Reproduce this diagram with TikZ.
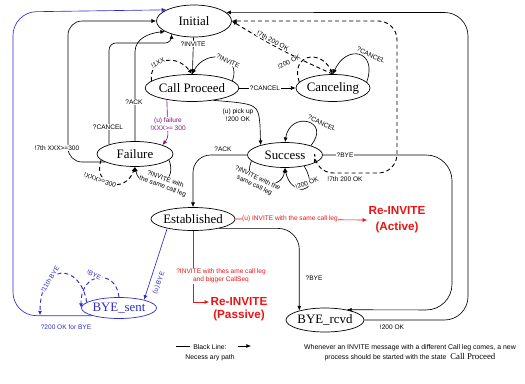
\documentclass[tikz,border=0pt]{standalone}
\usepackage{fontspec}
\setmainfont{Liberation Serif}
\newfontfamily\lblsans{Liberation Sans}
\usetikzlibrary{positioning, shapes.geometric, arrows.meta}
\definecolor{byeblue}{RGB}{45,45,200}
\definecolor{failpurple}{RGB}{125,20,125}
\definecolor{reinvred}{RGB}{235,20,20}
\tikzset{
  state/.style={ellipse, draw=black, line width=0.6pt, inner sep=0pt, font=\fontsize{11}{12}\selectfont},
  lbl/.style={font=\lblsans\fontsize{5.6}{6.6}\selectfont, fill=white, inner sep=0.6pt, align=center},
  reinv/.style={font=\lblsans\bfseries\fontsize{10}{13.5}\selectfont, text=reinvred, inner sep=1pt, align=center},
  arr/.style={line width=0.55pt, -{Latex[length=4pt,width=3.4pt]}},
  dsh/.style={arr, line width=0.8pt, dash pattern=on 3.5pt off 2.5pt},
}

\begin{document}
\begin{tikzpicture}[x=0.03cm, y=-0.03cm]
\useasboundingbox (0,0) rectangle (525,383);

% States
\node[state, minimum width=2.25cm, minimum height=0.96cm] (init) at (194,21) {Initial};
\node[state, minimum width=2.4cm, minimum height=0.81cm] (call) at (192,88) {Call Proceed};
\node[state, minimum width=2.22cm, minimum height=0.81cm] (cancel) at (333,88) {Canceling};
\node[state, minimum width=2.28cm, minimum height=0.75cm] (fail) at (135,154) {Failure};
\node[state, minimum width=2.25cm, minimum height=0.75cm] (succ) at (285,155) {Success};
\node[state, minimum width=2.19cm, minimum height=0.69cm] (estab) at (193,219) {Established};
\node[state, draw=byeblue, text=byeblue, minimum width=2.25cm, minimum height=0.63cm] (byes) at (119,308) {BYE\_sent};
\node[state, minimum width=2.19cm, minimum height=0.72cm] (byer) at (325,320) {BYE\_rcvd};

% Re-INVITE targets
\node[reinv] (reA) at (397,220) {Re-INVITE\\(Active)};
\node[reinv] (reP) at (239,302) {Re-INVITE};
\node[reinv, below=1pt of reP] (rePb) {(Passive)};

% Blue path back to Initial
\coordinate (bk) at (40,315.5);
\draw[arr, byeblue, rounded corners=20pt] (byes.south west) -| (13,12) -- (init.158);

% Failure -> Initial
\draw[arr, rounded corners=12pt] (fail.195) -| (68,21) -- (init.west);
\draw[arr, rounded corners=6pt] (fail.160) |- (172,43) -- (init.210);
\draw[arr] (fail.north) -- (135,52) .. controls (135,38) and (150,33) .. (init.200);

% Initial / Call Proceed / Canceling
\draw[arr] (init) -- (call);
\draw[dsh] (call.170) .. controls (148,60) and (176,52) .. (call.north);
\draw[arr] (call.10) .. controls (242,55) and (206,48) .. (call.north);
\draw[arr] (call.east) -- (cancel.west);
\draw[arr] (cancel.10) .. controls (378,50) and (346,44) .. (cancel.north);
\draw[dsh] (cancel.170) .. controls (290,55) and (320,48) .. (cancel.north);
\draw[dsh] (cancel.north) to[bend left=4] (init.east);

% Call Proceed -> Failure / Success
\draw[arr, failpurple, rounded corners=3pt] (call.205) -- (168,138) -- (fail.18);
\draw[arr] (call.330) .. controls (258,104) .. (260,125) -- (succ.158);

% Failure loops
\draw[dsh] (fail.190) .. controls (92,185) and (125,195) .. (fail.south);
\draw[arr] (fail.350) .. controls (180,188) and (140,192) .. (fail.south);

% Success loops and exits
\draw[arr] (succ.20) .. controls (332,120) and (290,110) .. (succ.north);
\draw[arr] (succ.190) .. controls (240,188) and (282,192) .. (succ.south);
\draw[arr] (succ.330) .. controls (322,196) and (290,196) .. (succ.south);
\draw[dsh, rounded corners=16pt] (succ.345) |- (397,173) |- (init.east);
\draw[arr, rounded corners=22pt] (succ.east) -| (452,310) -- (byer.25);
\draw[arr, rounded corners=15pt] (succ.west) -| (estab.north);

% BYE_rcvd -> Initial
\draw[arr, rounded corners=20pt] (byer.east) -| (468,12.5) -- (init.15);

% Established exits
\draw[arr, reinvred] (estab.east) -- (reA.west);
\draw[arr, reinvred] (estab.south) |- (reP.west);
\draw[arr, byeblue] (estab.200) -- (byes.18);
\draw[arr, rounded corners=18pt] (estab.340) -| (byer.160);

% BYE_sent loops
\draw[dsh, byeblue] (byes.north) .. controls (116,268) and (80,272) .. (byes.west);
\draw[dsh, byeblue] (byes.170) .. controls (80,262) and (40,262) .. (bk);

% Labels
\node[lbl] (tInv) at (193,44) {?INVITE};
\node[lbl, rotate=25] (t1xx) at (158,63) {!1XX};
\node[lbl, rotate=-25] (tInvLoop) at (228,61) {?INVITE};
\node[lbl] (tCanc) at (265,88) {?CANCEL};
\node[lbl, rotate=-25] (tCancLoop) at (371,55) {?CANCEL};
\node[lbl, rotate=25] (t200c) at (289,62) {!200 OK};
\node[lbl, rotate=-28] (t7th200) at (273,41) {!7th 200 OK};
\node[lbl] (t7thXXX) at (57,148) {!7th XXX>=300};
\node[lbl] (tCancF) at (108,127) {?CANCEL};
\node[lbl] (tAckF) at (134,102) {?ACK};
\node[lbl, text=failpurple] (tFailure) at (168,124) {(u) failure\\!XXX>= 300};
\node[lbl] (tPick) at (238,115) {(u) pick up\\!200 OK};
\node[lbl, rotate=-20] (tXXX) at (100,180) {!XXX>=300};
\node[lbl, rotate=-20] (tInvF) at (164,183) {?INVITE with\\the same call leg};
\node[lbl, rotate=-25] (tCancS) at (322,123) {?CANCEL};
\node[lbl, rotate=-25] (tInvS) at (256,182) {?INVITE with the\\same call leg};
\node[lbl, rotate=22] (t200s) at (307,183) {!200 OK};
\node[lbl] (t7th200s) at (345,179) {!7th 200 OK};
\node[lbl] (tByeS) at (345,155) {?BYE};
\node[lbl, fill=none] (tAckS) at (223,149) {?ACK};
\node[lbl, text=reinvred] (tReA) at (290,219) {(u) INVITE with the same call leg};
\node[lbl, text=reinvred] (tReP) at (221,276) {?INVITE with thes ame call leg\\and bigger CallSeq};
\node[lbl, fill=none, text=byeblue, rotate=69] (tuBye) at (159,283) {(u) BYE};
\node[lbl, text=byeblue, rotate=-25] (tBye) at (94,275) {!BYE};
\node[lbl, text=byeblue, rotate=58] (t11Bye) at (50,279) {!11th BYE};
\node[lbl, fill=none, text=byeblue] (t200Bye) at (66,327) {?200 OK for BYE};
\node[lbl, fill=none] (tByeE) at (314,278) {?BYE};
\node[lbl, fill=none] (t200r) at (392,327) {!200 OK};

% Legend
\coordinate (lgL1) at (176,346);
\coordinate (lgL2) at (190,346);
\coordinate (lgA1) at (238,346);
\coordinate (lgA2) at (251,346);
\draw[line width=0.55pt] (lgL1) -- (lgL2);
\draw[arr] (lgA1) -- (lgA2);
\node[lbl, fill=none, font=\lblsans\fontsize{5.8}{8.5}\selectfont] (lgTxt) at (210,353) {Black Line:\\Necess ary path};
\node[lbl, fill=none, font=\lblsans\fontsize{5.9}{8.5}\selectfont] (note) at (410,353) {Whenever an INVITE message with a different Call leg comes, a new\\process should be started with the state\ \ {\rmfamily\fontsize{7.5}{7.5}\selectfont Call Proceed}};

\end{tikzpicture}
\end{document}
